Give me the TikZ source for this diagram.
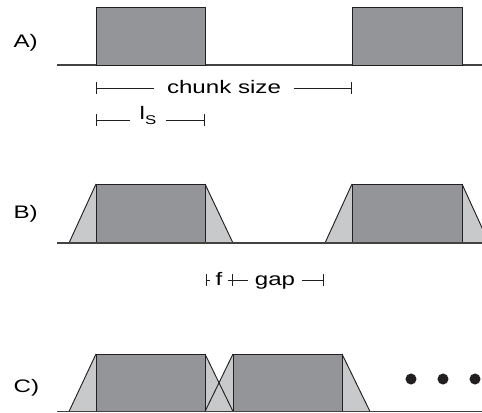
\documentclass[tikz,border=0pt]{standalone}
\usepackage{fontspec}
\setmainfont{Liberation Sans}
\usetikzlibrary{arrows.meta}
\definecolor{chunkdark}{HTML}{939598}
\definecolor{chunklight}{HTML}{C8C9CB}
\definecolor{inkblack}{HTML}{231F20}

\begin{document}
\begin{tikzpicture}[x=0.75pt,y=-0.75pt,line width=0.7pt]
      \tikzstyle{axis} = [draw=inkblack!85,line width=0.9pt]
      \tikzstyle{chunk} = [draw=inkblack,fill=chunkdark]
      \tikzstyle{fade} = [fill=chunklight]
      \tikzstyle{edge} = [draw=inkblack,line join=round]
      \tikzstyle{rowlabel} = [font=\fontsize{13.6}{16}\selectfont,xscale=1.33,anchor=base west,inner sep=0pt]
      \tikzstyle{measure} = [font=\fontsize{13.6}{16}\selectfont,xscale=1.33,anchor=base,inner ysep=0pt]
      \tikzstyle{tick} = [draw=inkblack,line width=0.7pt]
      \tikzstyle{dot} = [fill=inkblack,shape=circle,minimum size=8.3pt,inner sep=0pt]
      \useasboundingbox (0,0) rectangle (482,412);
      %
      % Row A: plain chunks.
      \node[rowlabel] (labA) at (13,47) {A)};
      \coordinate (A0) at (57,65);
      \coordinate (A1) at (482,65);
      \draw[axis] (A0) -- (A1);
      \draw[chunk] (96,7) rectangle (205,65);
      \draw[chunk] (352,7) rectangle (462,65);

      % Chunk size and l_S.
      \node[measure,inner xsep=6.8pt] (size) at (224,93) {chunk size};
      \coordinate (size0) at (96,88);
      \coordinate (size1) at (352,88);
      \draw[tick,{Bar[width=8.5pt]}-] (size0) -- (size0 -| size.west);
      \draw[tick,-{Bar[width=8.5pt]}] (size1 -| size.east) -- (size1);

      \node[measure,inner xsep=5pt] (ls) at (148,119) {l\raisebox{-0.32em}{\fontsize{9.5}{10}\selectfont S}};
      \coordinate (ls0) at (96,120);
      \coordinate (ls1) at (205,120);
      \draw[tick,{Bar[width=8.5pt]}-] (ls0) -- (ls0 -| ls.west);
      \draw[tick,-{Bar[width=8.5pt]}] (ls1 -| ls.east) -- (ls1);

      % Row B: chunks with fades.
      \node[rowlabel] (labB) at (13,218) {B)};
      \fill[fade] (69,243) -- (96,184) -- (205,184) -- (233,243) -- cycle;
      \fill[fade] (325,243) -- (352,184) -- (462,184) -- (489,243) -- cycle;
      \draw[chunk] (96,184) rectangle (205,243);
      \draw[chunk] (352,184) rectangle (462,243);
      \draw[edge] (69,243) -- (96,184) (205,184) -- (233,243) (325,243) -- (352,184) (462,184) -- (489,243);
      \coordinate (B0) at (57,243);
      \coordinate (B1) at (482,243);
      \draw[axis] (B0) -- (B1);

      % Fade f and gap.
      \node[measure,inner xsep=2.6pt] (f) at (219,285) {f};
      \coordinate (f0) at (206,280);
      \coordinate (f1) at (233,280);
      \draw[tick,{Bar[width=8.5pt]}-] (f0) -- (f0 -| f.west);
      \draw[tick,-{Bar[width=8.5pt]}] (f1 -| f.east) -- (f1);

      \node[measure,inner xsep=3.6pt] (gap) at (275,285) {gap};
      \coordinate (gap1) at (324,280);
      \draw[tick] (f1) -- (f1 -| gap.west);
      \draw[tick,-{Bar[width=8.5pt]}] (gap1 -| gap.east) -- (gap1);

      % Row C: overlapping chunks.
      \node[rowlabel] (labC) at (13,392) {C)};
      \fill[fade] (69,411.5) -- (96,354) -- (205,354) -- (233,411.5) -- cycle;
      \fill[fade] (205,411.5) -- (233,354) -- (342,354) -- (370,411.5) -- cycle;
      \draw[chunk] (96,354) rectangle (205,411.5);
      \draw[chunk] (233,354) rectangle (342,411.5);
      \draw[edge] (69,411.5) -- (96,354) (205,354) -- (233,411.5) (205,411.5) -- (233,354) (342,354) -- (370,411.5);
      \coordinate (C0) at (57,411.5);
      \coordinate (C1) at (482,411.5);
      \draw[axis] (C0) -- (C1);

      \node[dot] (dot1) at (411,379) {};
      \node[dot] (dot2) at (443,379) {};
      \node[dot] (dot3) at (475,379) {};
      %
\end{tikzpicture}
\end{document}
